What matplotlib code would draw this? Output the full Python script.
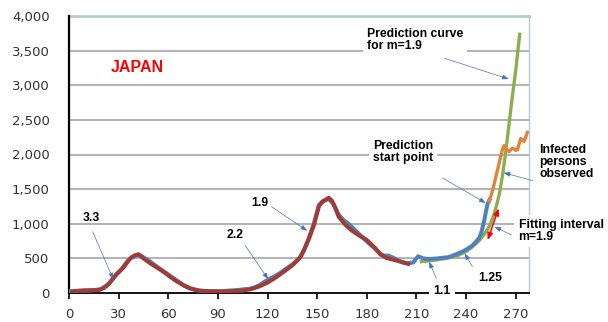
import matplotlib
matplotlib.use("Agg")
import matplotlib.pyplot as plt
from matplotlib.ticker import FuncFormatter

# Observed daily infected persons (blue)
obs_days = [1, 4, 7, 10, 13, 16, 19, 22, 25, 28, 31, 34, 37, 40, 43, 46, 49, 52, 55, 58,
            61, 64, 67, 70, 73, 76, 79, 82, 85, 88, 91, 94, 97, 100, 103, 106, 109, 112,
            115, 118, 121, 124, 127, 130, 133, 136, 139, 142, 145, 148, 151, 154, 157,
            160, 163, 166, 169, 172, 175, 178, 181, 184, 187, 190, 193, 196, 199, 202,
            205, 208, 211, 214, 217, 220, 223, 226, 229, 232, 235, 238, 241, 244, 246,
            248, 249, 250, 251, 252, 253, 254]
obs_vals = [25, 30, 35, 38, 40, 45, 55, 95, 160, 250, 320, 420, 500, 540, 545, 500, 455,
            400, 350, 300, 250, 200, 150, 100, 65, 45, 35, 28, 25, 28, 25, 30, 35, 40, 45,
            55, 60, 80, 110, 160, 200, 240, 280, 330, 380, 430, 500, 610, 800, 1000, 1270,
            1330, 1360, 1280, 1130, 1050, 1000, 930, 860, 790, 720, 660, 590, 540, 540,
            510, 470, 440, 430, 440, 530, 500, 490, 495, 500, 510, 515, 540, 570, 600,
            640, 690, 740, 800, 860, 950, 1050, 1180, 1290, 1340]

# Fitted curve (red)
fit_days = [2, 6, 10, 14, 18, 21, 24, 26, 29, 33, 36, 38, 40, 42, 45, 49, 52, 55, 58, 61,
            65, 69, 73, 79, 85, 90, 95, 100, 105, 110, 115, 120, 125, 130, 135, 140, 145,
            148, 151, 153, 155, 157, 159, 161, 163, 167, 171, 175, 180, 185, 188, 192,
            196, 200, 205]
fit_vals = [20, 30, 35, 38, 42, 70, 130, 190, 280, 370, 470, 520, 545, 560, 500, 430, 385,
            340, 290, 236, 170, 115, 70, 33, 25, 20, 22, 28, 35, 55, 95, 150, 225, 310,
            400, 520, 780, 980, 1250, 1320, 1345, 1375, 1330, 1220, 1100, 985, 900, 835,
            765, 650, 560, 505, 480, 455, 420]

# Prediction curve for m=1.9 (green)
pred_days = [212, 220, 228, 235, 240, 244, 248, 251, 254, 256, 258, 260, 262, 264, 266,
             268, 270, 272.5]
pred_vals = [450, 470, 500, 540, 600, 670, 760, 850, 960, 1080, 1230, 1420, 1700, 2050,
             2450, 2850, 3220, 3760]

# Observed infected persons after the prediction start point (orange)
late_days = [254, 256, 258, 260, 262, 263, 264, 266, 267, 268, 269, 270, 271, 272, 273,
             274, 275, 276, 277]
late_vals = [1330, 1480, 1680, 1880, 2080, 2130, 2080, 2040, 2070, 2090, 2080, 2060, 2070,
             2150, 2230, 2210, 2190, 2250, 2320]

x_ticks = list(range(0, 271, 30))
y_ticks = list(range(0, 4001, 500))

BLUE = "#4f81bd"
RED = "#a23b36"
GREEN = "#8cae4f"
ORANGE = "#e0843c"
ARROW = "#4472c4"

fig = plt.figure(figsize=(6.08, 3.22), dpi=100)
ax = fig.add_axes([69 / 608, 1 - 293 / 322, 460 / 608, 277 / 322])

ax.set_xlim(0, 278)
ax.set_ylim(0, 4000)
ax.set_xticks(x_ticks)
ax.set_yticks(y_ticks)
ax.yaxis.set_major_formatter(FuncFormatter(lambda v, p: f"{v:,.0f}"))

for v in y_ticks[1:-1]:
    ax.axhline(v, color="#a6a6a6", lw=1.2, zorder=1)
ax.axhline(4000, color="#b8cad6", lw=2.0, zorder=1, clip_on=False)

ax.spines["top"].set_visible(False)
ax.spines["right"].set_color("#b8cad6")
ax.spines["right"].set_linewidth(1.0)
ax.spines["left"].set_color("black")
ax.spines["left"].set_linewidth(1.6)
ax.spines["bottom"].set_color("black")
ax.spines["bottom"].set_linewidth(1.3)

ax.tick_params(axis="y", length=0, pad=14, labelsize=9.5, labelcolor="#333333")
ax.tick_params(axis="x", direction="out", length=4.5, width=1.2, pad=6,
               labelsize=9.5, labelcolor="#333333")

ax.plot(pred_days, pred_vals, color=GREEN, lw=2.4, zorder=3, solid_capstyle="butt")
ax.plot(obs_days, obs_vals, color=BLUE, lw=2.9, zorder=4)
ax.plot(late_days, late_vals, color=ORANGE, lw=2.4, zorder=4)
ax.plot(fit_days, fit_vals, color=RED, lw=2.9, zorder=5)

tfont = dict(family="Liberation Sans", fontweight="bold", fontsize=8.8, color="black")
white = dict(boxstyle="square,pad=0.35", fc="white", ec="none")

ax.text(25.4, 3191, "JAPAN", family="Liberation Sans", fontweight="bold",
        fontsize=11.5, color="#ff0000", va="baseline", ha="left", zorder=6)


def note(text, xy_text, **kw):
    return ax.text(*xy_text, text, va="baseline", ha="left", zorder=7,
                   linespacing=0.98, **tfont, **kw)


def arrow(start, end):
    ax.annotate("", xy=end, xytext=start, zorder=7,
                arrowprops=dict(arrowstyle="-|>,head_length=0.38,head_width=0.14",
                                color=ARROW, lw=0.5, shrinkA=0, shrinkB=0))


note("3.3", (8.5, 1040))
arrow((14.3, 885), (26.8, 198))
note("2.2", (95.2, 790))
arrow((106.3, 693), (120.4, 198))
note("1.9", (110.3, 1256))
arrow((122.4, 1246), (143.9, 900))
note("1.1", (220.4, -14), bbox=white, clip_on=False)
arrow((222.0, 212), (217.6, 452))
note("1.25", (247.6, 178), bbox=white)
arrow((243.8, 380), (239.1, 573))

note("Prediction curve\nfor m=1.9", (180, 3519), bbox=white)
arrow((227, 3389), (265.7, 3090))
note("Prediction\nstart point", (183.6, 1912), bbox=white)
arrow((225.8, 1661), (251.8, 1300))
note("Infected\npersons\nobserved", (284.4, 1675), clip_on=False)
arrow((280.2, 1622), (262.7, 1737))
note("Fitting interval\nm=1.9", (271.7, 765), bbox=white, clip_on=False)
arrow((267.3, 838), (257.2, 957))

ax.annotate("", xy=(259.7, 1223), xytext=(253.0, 765), zorder=7,
            arrowprops=dict(arrowstyle="<|-|>,head_length=0.4,head_width=0.16",
                            color="#ff0000", lw=1.1, shrinkA=0, shrinkB=0))

fig.savefig("out.png", dpi=100)
